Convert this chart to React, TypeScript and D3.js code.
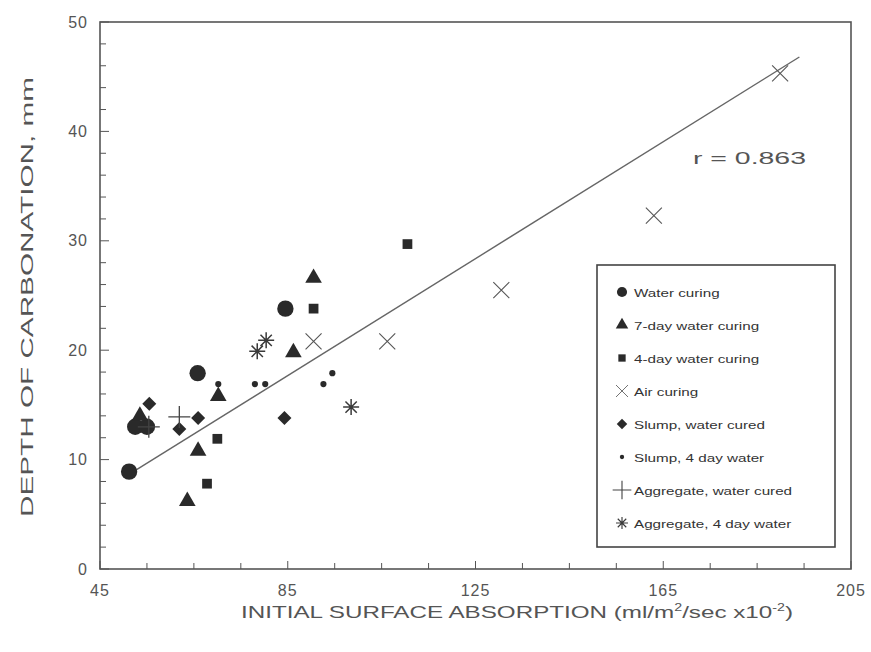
import React from "react"
import * as d3 from "d3"

// series values: [initial surface absorption, depth of carbonation]
const waterCuring = [[51.2, 8.9], [52.5, 13], [55, 13], [65.8, 17.9], [84.5, 23.8]]
const sevenDay = [[53.5, 14], [63.6, 6.2], [65.9, 10.8], [70.2, 15.8], [86.2, 19.8], [90.5, 26.6]]
const fourDay = [[67.8, 7.8], [70, 11.9], [90.5, 23.8], [110.5, 29.7]]
const airCuring = [[90.5, 20.8], [106.2, 20.8], [130.5, 25.5], [163, 32.3], [189.9, 45.3]]
const slumpWater = [[55.5, 15.1], [61.9, 12.8], [65.9, 13.8], [84.3, 13.8]]
const slumpFourDay = [[70.2, 16.9], [78, 16.9], [80.2, 16.9], [92.6, 16.9], [94.5, 17.9]]
const aggWater = [[55.4, 13], [61.9, 13.9]]
const aggFourDay = [[78.5, 19.9], [80.4, 20.9], [98.5, 14.8]]

const fitLine = [[51, 8.6], [194, 46.8]]

const xTicks = [45, 85, 125, 165, 205]
const yTicks = [0, 10, 20, 30, 40, 50]

const seriesNames = [
  "Water curing",
  "7-day water curing",
  "4-day water curing",
  "Air curing",
  "Slump, water cured",
  "Slump, 4 day water",
  "Aggregate, water cured",
  "Aggregate, 4 day water",
]

const ink = "#2a2a2a"
const textCol = "#555"

type Kind = "circle" | "triangle" | "square" | "times" | "diamond" | "dot" | "plus" | "asterisk"

function Marker({ kind, x, y, scale = 1 }: { kind: Kind; x: number; y: number; scale?: number }) {
  const t = `translate(${x},${y}) scale(${scale})`
  if (kind === "times") {
    const r = 8
    return <path transform={t} d={`M${-r},${-r}L${r},${r}M${-r},${r}L${r},${-r}`} stroke="#555" strokeWidth={1.1} fill="none" />
  }
  if (kind === "plus") {
    const r = 11
    return <path transform={t} d={`M${-r},0L${r},0M0,${-r}L0,${r}`} stroke="#444" strokeWidth={1.3} fill="none" />
  }
  if (kind === "asterisk") {
    const r = 8
    const d = d3.range(4).map((i) => {
      const a = (i * Math.PI) / 4
      return `M${-r * Math.cos(a)},${-r * Math.sin(a)}L${r * Math.cos(a)},${r * Math.sin(a)}`
    }).join("")
    return <path transform={t} d={d} stroke="#3a3a3a" strokeWidth={1.5} fill="none" />
  }
  if (kind === "diamond") {
    const r = 7
    return <path transform={t} d={`M0,${-r}L${r},0L0,${r}L${-r},0Z`} fill={ink} />
  }
  const sym = {
    circle: [d3.symbolCircle, 210],
    triangle: [d3.symbolTriangle, 120],
    square: [d3.symbolSquare, 95],
    dot: [d3.symbolCircle, 30],
  }[kind] as [d3.SymbolType, number]
  const p = d3.symbol().type(sym[0]).size(sym[1])() as string
  return <path transform={t} d={p} fill={ink} />
}

export default function App() {
  const width = 871
  const height = 652
  const left = 100, right = 851, top = 22, bottom = 569

  const x = d3.scaleLinear().domain([45, 205]).range([left, right])
  const y = d3.scaleLinear().domain([0, 50]).range([bottom, top])

  const series: [number[][], Kind][] = [
    [waterCuring, "circle"],
    [sevenDay, "triangle"],
    [fourDay, "square"],
    [airCuring, "times"],
    [slumpWater, "diamond"],
    [slumpFourDay, "dot"],
    [aggWater, "plus"],
    [aggFourDay, "asterisk"],
  ]

  const line = d3.line<number[]>().x((d) => x(d[0])).y((d) => y(d[1]))

  const xMinor = d3.range(45, 206, 10)
  const yMinor = d3.range(0, 51, 2)

  const legX = 597, legY = 265, legW = 238, legH = 282

  return (
    <svg width={width} height={height} style={{ position: "absolute", left: 0, top: 0, background: "#fff" }}
      fontFamily="'Liberation Sans', Arial, sans-serif">
      {/* frame */}
      <rect x={left} y={top} width={right - left} height={bottom - top} fill="none" stroke="#555" strokeWidth={1.6} />

      {/* ticks */}
      {yMinor.map((v) => (
        <line key={"ym" + v} x1={left} x2={left + (v % 10 === 0 ? 9 : 6)} y1={y(v)} y2={y(v)} stroke="#555" strokeWidth={1} />
      ))}
      {xMinor.map((v) => (
        <line key={"xm" + v} x1={x(v)} x2={x(v)} y1={bottom} y2={bottom - ((v - 45) % 40 === 0 ? 8 : 6)} stroke="#555" strokeWidth={1} />
      ))}
      {yTicks.map((v) => (
        <text key={"yt" + v} x={left - 12} y={y(v)} dy="0.35em" textAnchor="end" fontSize={16} letterSpacing={1} fill={textCol}>{v}</text>
      ))}
      {xTicks.map((v) => (
        <text key={"xt" + v} x={x(v)} y={bottom + 27} textAnchor="middle" fontSize={16} letterSpacing={1} fill={textCol}>{v}</text>
      ))}

      {/* axis titles */}
      <text transform={`translate(33,${297}) rotate(-90)`} textAnchor="middle" fontSize={17} fill={textCol}
        textLength={440} lengthAdjust="spacingAndGlyphs">
        DEPTH OF CARBONATION, mm
      </text>
      <text x={241} y={618} fontSize={17} fill={textCol}
        textLength={552} lengthAdjust="spacingAndGlyphs">
        INITIAL SURFACE ABSORPTION (ml/m<tspan fontSize={10} dy={-7}>2</tspan><tspan dy={7}>/sec x10</tspan><tspan fontSize={10} dy={-7}>-2</tspan><tspan dy={7}>)</tspan>
      </text>

      {/* regression line */}
      <path d={line(fitLine) as string} fill="none" stroke="#666" strokeWidth={1.4} />
      <text x={693} y={164} fontSize={16} fill={textCol} textLength={113} lengthAdjust="spacingAndGlyphs">r = 0.863</text>

      {/* data */}
      {series.map(([pts, kind], si) =>
        pts.map((d, i) => <Marker key={si + "-" + i} kind={kind} x={x(d[0])} y={y(d[1])} />)
      )}

      {/* legend */}
      <rect x={legX} y={legY} width={legW} height={legH} fill="#fff" stroke="#444" strokeWidth={1.6} />
      {seriesNames.map((name, i) => {
        const ry = legY + 27 + i * 33
        const kind = series[i][1]
        const sc = kind === "circle" ? 0.62 : kind === "plus" ? 0.85 : kind === "dot" ? 0.7 : 0.75
        return (
          <g key={name}>
            <Marker kind={kind} x={legX + 25} y={ry} scale={sc} />
            <text transform={`translate(${legX + 37},${ry + 5}) scale(1.45,1)`} fontSize={10.5} fill="#333">{name}</text>
          </g>
        )
      })}
    </svg>
  )
}
